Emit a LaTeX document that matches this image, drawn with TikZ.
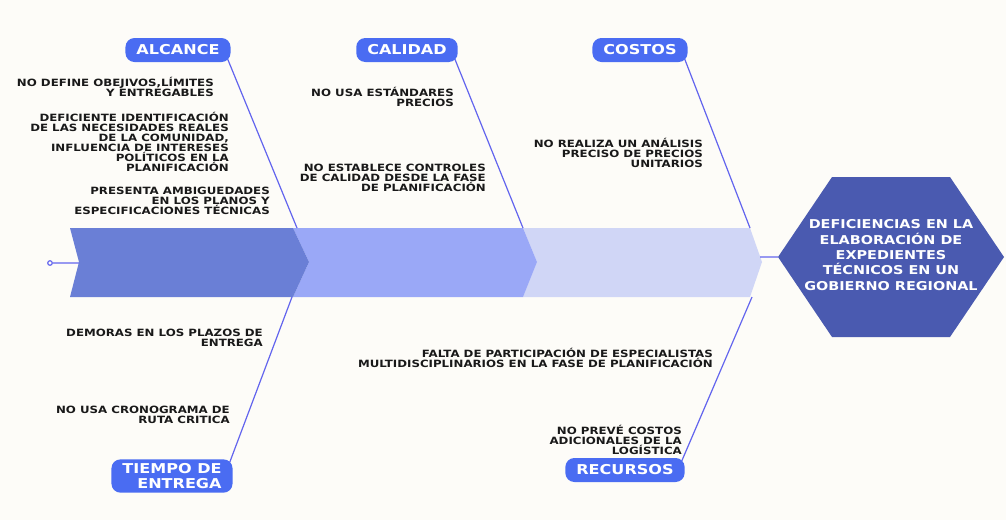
\documentclass[tikz,border=0pt]{standalone}
\usepackage{fontspec}
\setmainfont{DejaVu Sans}[FakeStretch=1.18]
\usetikzlibrary{positioning, backgrounds}
\definecolor{fondo}{RGB}{253,252,248}
\definecolor{azulcat}{RGB}{74,108,242}
\definecolor{azulhueso}{RGB}{98,100,238}
\definecolor{espina1}{RGB}{106,127,214}
\definecolor{espina2}{RGB}{154,168,247}
\definecolor{espina3}{RGB}{208,214,246}
\definecolor{azulefecto}{RGB}{74,90,176}
\tikzset{
    categoria/.style={
        fill=azulcat,
        text=white,
        rounded corners=9pt,
        inner xsep=11pt,
        inner ysep=4pt,
        minimum height=24pt,
        font=\bfseries\fontsize{13.6}{15}\selectfont
    },
    causa/.style={
        anchor=base east,
        align=right,
        inner sep=0pt,
        text=black!90,
        font=\bfseries\fontsize{10}{10}\selectfont
    },
    hueso/.style={draw=azulhueso, line width=1.2pt}
}

\begin{document}
\begin{tikzpicture}[x=1pt,y=-1pt]
	\useasboundingbox (0,0) rectangle (1006,520);
	% categorias
	\node[categoria] (alcance) at (178,50) {ALCANCE};
	\node[categoria] (calidad) at (407,50) {CALIDAD};
	\node[categoria] (costos) at (640,50) {COSTOS};
	\node[categoria, align=right] (tiempo) at (172,476) {TIEMPO DE\\ENTREGA};
	\node[categoria] (recursos) at (625,470) {RECURSOS};
	% efecto
	\node[text=white, align=center, inner sep=0pt,
		font=\bfseries\fontsize{12.2}{15.3}\selectfont] (efecto) at (891,255)
		{DEFICIENCIAS EN LA\\ELABORACIÓN DE\\EXPEDIENTES\\TÉCNICOS EN UN\\GOBIERNO REGIONAL};
	% causas
	\node[causa] (alc1) at (214,96) {NO DEFINE OBEJIVOS,LÍMITES\\Y ENTREGABLES};
	\node[causa] (alc2) at (229,171) {DEFICIENTE IDENTIFICACIÓN\\DE LAS NECESIDADES REALES\\DE LA COMUNIDAD,\\INFLUENCIA DE INTERESES\\POLÍTICOS EN LA\\PLANIFICACIÓN};
	\node[causa] (alc3) at (270,214) {PRESENTA AMBIGUEDADES\\EN LOS PLANOS Y\\ESPECIFICACIONES TÉCNICAS};
	\node[causa] (cal1) at (454,106) {NO USA ESTÁNDARES\\PRECIOS};
	\node[causa] (cal2) at (486,191) {NO ESTABLECE CONTROLES\\DE CALIDAD DESDE LA FASE\\DE PLANIFICACIÓN};
	\node[causa] (cos1) at (703,167) {NO REALIZA UN ANÁLISIS\\PRECISO DE PRECIOS\\UNITARIOS};
	\node[causa] (tie1) at (263,346) {DEMORAS EN LOS PLAZOS DE\\ENTREGA};
	\node[causa] (tie2) at (230,423) {NO USA CRONOGRAMA DE\\RUTA CRITICA};
	\node[causa] (rec1) at (713,367) {FALTA DE PARTICIPACIÓN DE ESPECIALISTAS\\MULTIDISCIPLINARIOS EN LA FASE DE PLANIFICACIÓN};
	\node[causa] (rec2) at (682,454) {NO PREVÉ COSTOS\\ADICIONALES DE LA\\LOGÍSTICA};
	\node[circle, draw=azulhueso, line width=1.2pt, inner sep=1.6pt, fill=fondo] (cola) at (50,263) {};
	\begin{pgfonlayer}{background}
	\fill[fondo] (0,0) rectangle (1006,520);
	% espina
	\fill[espina3] (523,228) -- (750,228) -- (762,262) -- (750,297) -- (523,297) -- (537,262) -- cycle;
	\fill[espina2] (293,228) -- (523,228) -- (537,262) -- (523,297) -- (293,297) -- (309,262) -- cycle;
	\fill[espina1] (70,228) -- (293,228) -- (309,262) -- (293,297) -- (70,297) -- (79,262) -- cycle;
	% hexagono del efecto
	\fill[azulefecto] (778,257) -- (832,177) -- (950,177) -- (1004,257) -- (950,337) -- (832,337) -- cycle;
	\coordinate (hex) at (778,257);
	\coordinate (e0) at (79,263);
	\coordinate (e1) at (760,257);
	\coordinate (h1) at (297,228);
	\coordinate (h2) at (523,228);
	\coordinate (h3) at (750,228);
	\coordinate (h4) at (292,297);
	\coordinate (h5) at (752,297);
	\draw[hueso]
	(cola) -- (e0)
	(e1) -- (hex)
	([shift={(-3pt,3pt)}]alcance.south east) -- (h1)
	([shift={(-3pt,3pt)}]calidad.south east) -- (h2)
	([shift={(-3pt,3pt)}]costos.south east) -- (h3)
	([shift={(-3pt,-3pt)}]tiempo.north east) -- (h4)
	([shift={(-3pt,-3pt)}]recursos.north east) -- (h5);
	\end{pgfonlayer}
\end{tikzpicture}
\end{document}
